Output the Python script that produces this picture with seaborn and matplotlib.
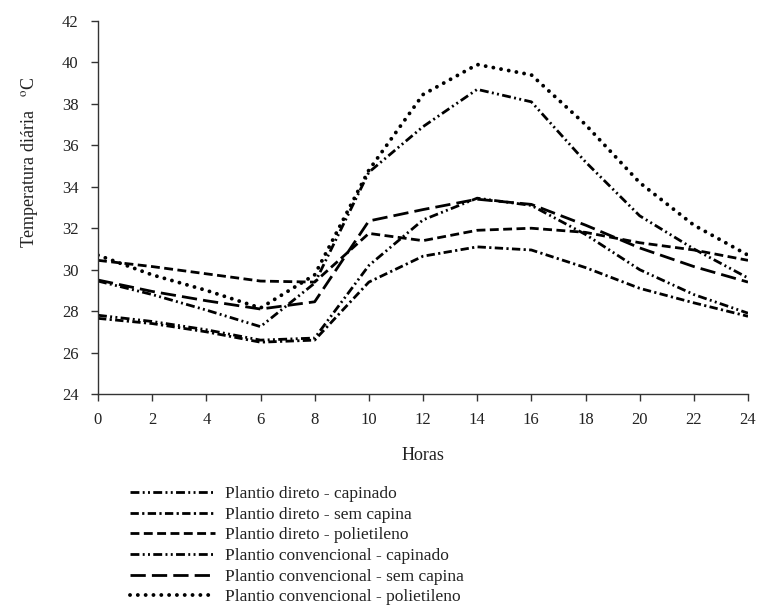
import matplotlib
matplotlib.use("Agg")
import matplotlib.pyplot as plt
import seaborn as sns
import pandas as pd

# Hourly soil temperature (°C) for each tillage / weed-control treatment
horas = [0, 2, 4, 6, 8, 10, 12, 14, 16, 18, 20, 22, 24]

pd_capinado = [27.8, 27.5, 27.1, 26.6, 26.7, 30.2, 32.4, 33.45, 33.1, 31.7, 30.0, 28.8, 27.9]
pd_sem_capina = [27.65, 27.4, 27.0, 26.5, 26.6, 29.4, 30.65, 31.1, 30.95, 30.1, 29.1, 28.4, 27.75]
pd_polietileno = [30.45, 30.15, 29.8, 29.45, 29.4, 31.75, 31.4, 31.9, 32.0, 31.8, 31.3, 30.95, 30.45]
pc_capinado = [29.45, 28.8, 28.05, 27.25, 29.35, 34.7, 36.9, 38.7, 38.1, 35.2, 32.6, 31.0, 29.6]
pc_sem_capina = [29.5, 28.95, 28.5, 28.1, 28.45, 32.35, 32.9, 33.4, 33.15, 32.15, 31.05, 30.15, 29.4]
pc_polietileno = [30.7, 29.75, 29.0, 28.15, 29.75, 34.8, 38.45, 39.9, 39.4, 37.0, 34.2, 32.15, 30.7]

tratamentos = [
    "Plantio direto - capinado",
    "Plantio direto - sem capina",
    "Plantio direto - polietileno",
    "Plantio convencional - capinado",
    "Plantio convencional - sem capina",
    "Plantio convencional - polietileno",
]
series = [pd_capinado, pd_sem_capina, pd_polietileno,
          pc_capinado, pc_sem_capina, pc_polietileno]

y_ticks = [24, 26, 28, 30, 32, 34, 36, 38, 40, 42]
x_ticks = [0, 2, 4, 6, 8, 10, 12, 14, 16, 18, 20, 22, 24]

# line appearance per treatment: (linewidth, dash pattern, cap style)
estilos = [
    (2.0, (3.2, 1.2, 0.7, 1.2, 0.7, 1.2), "butt"),
    (2.0, (3.0, 1.2, 0.8, 1.2), "butt"),
    (2.0, (3.2, 1.6), "butt"),
    (2.0, (3.2, 1.2, 0.7, 1.2, 0.7, 1.2), "butt"),
    (2.0, (5.5, 2.2), "butt"),
    (2.8, (0.01, 2.0), "round"),
]

df = pd.DataFrame({
    "Horas": horas * len(series),
    "Temp": [v for s in series for v in s],
    "Tratamento": [t for t in tratamentos for _ in horas],
})

sns.set_style("ticks")
plt.rcParams["font.family"] = ["Liberation Serif", "DejaVu Serif"]
plt.rcParams["mathtext.fontset"] = "stix"

fig = plt.figure(figsize=(7.58, 6.14), dpi=100)
ax = fig.add_axes([98 / 758, 1 - 394 / 614, 650 / 758, 373 / 614])

for nome, (lw, dashes, cap) in zip(tratamentos, estilos):
    sub = df[df["Tratamento"] == nome]
    sns.lineplot(data=sub, x="Horas", y="Temp", ax=ax, color="black",
                 linewidth=lw, label=nome, dashes=False,
                 solid_capstyle=cap)
    line = ax.get_lines()[-1]
    line.set_dashes(dashes)
    line.set_dash_capstyle(cap)

ax.set_xlim(0, 24)
ax.set_ylim(24, 42)
ax.set_xticks(x_ticks)
ax.set_yticks(y_ticks)
ax.tick_params(axis="both", labelsize=12, length=5, width=1, color="#333333",
               direction="out", labelcolor="#222222")
ax.tick_params(axis="x", pad=8)
ax.tick_params(axis="y", pad=9)
sns.despine(ax=ax)
for s in ("left", "bottom"):
    ax.spines[s].set_color("#333333")
    ax.spines[s].set_linewidth(1.0)

ax.set_xlabel("")
ax.set_ylabel("")
fig.text(423 / 758, 1 - 455 / 614, "Horas", ha="center", va="center",
         fontsize=13, color="#222222")
fig.text(30 / 758, 1 - 162 / 614, "Temperatura diária   $^{\\mathrm{o}}$C",
         rotation=90, ha="center", va="center", fontsize=13, color="#222222")

handles, labels = ax.get_legend_handles_labels()
ax.get_legend().remove()
fig.legend(handles, labels, loc="upper left",
           bbox_to_anchor=(130 / 758, 1 - 486 / 614),
           frameon=False, fontsize=12.5, handlelength=4.9, handletextpad=0.57,
           labelspacing=0.26, borderaxespad=0, borderpad=0,
           labelcolor="#222222")

fig.savefig("out.png", dpi=100)
